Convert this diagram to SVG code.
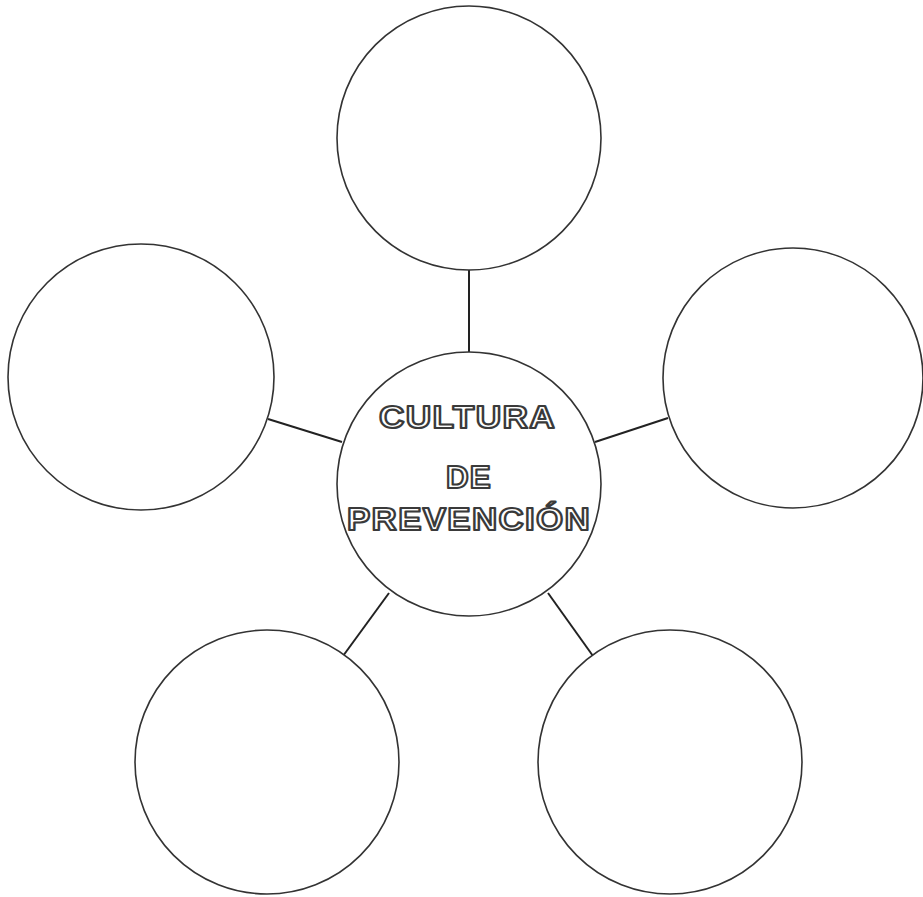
<svg xmlns="http://www.w3.org/2000/svg" width="923" height="897" viewBox="0 0 923 897">
<style>
.node{fill:#fff;stroke:#333;stroke-width:1.6}
.conn{stroke:#222;stroke-width:2}
.lbl{font-family:"Liberation Sans",Arial,sans-serif;font-weight:bold;font-size:32px;letter-spacing:1.2px;fill:#fff;stroke:#3a3a3a;stroke-width:2.2;stroke-linejoin:round}
</style>
<rect width="923" height="897" fill="#fff"/>
<g id="connectors">
<line class="conn" x1="469" y1="270" x2="469" y2="352"/>
<line class="conn" x1="268" y1="419" x2="342" y2="442"/>
<line class="conn" x1="595" y1="442" x2="668" y2="418"/>
<line class="conn" x1="343" y1="656" x2="389" y2="593"/>
<line class="conn" x1="548" y1="593" x2="593" y2="656"/>
</g>
<g id="top"><circle class="node" cx="469" cy="138" r="132"/></g>
<g id="left"><circle class="node" cx="141" cy="377" r="133"/></g>
<g id="right"><circle class="node" cx="793" cy="378" r="130"/></g>
<g id="bottom-left"><circle class="node" cx="267" cy="762" r="132"/></g>
<g id="bottom-right"><circle class="node" cx="670" cy="762" r="132"/></g>
<g id="center">
<circle class="node" cx="469" cy="484" r="132"/>
<text class="lbl" x="379" y="428" textLength="177" lengthAdjust="spacingAndGlyphs">CULTURA</text>
<text class="lbl" x="446" y="488" textLength="46" lengthAdjust="spacingAndGlyphs">DE</text>
<text class="lbl" x="347" y="530" textLength="244" lengthAdjust="spacingAndGlyphs">PREVENCIÓN</text>
</g>
</svg>
